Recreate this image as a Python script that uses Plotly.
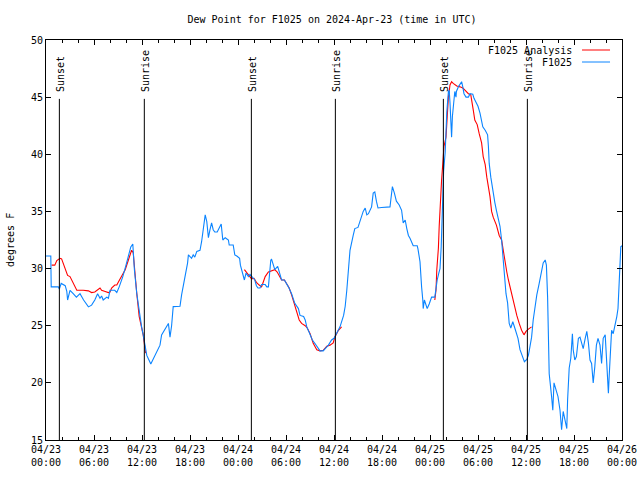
import pandas as pd
import plotly.graph_objects as go

START = pd.Timestamp("2024-04-23 00:00")

# F1025 observations: hours since 2024-04-23 00:00 UTC, dew point (F)
obs_hours = [0.0, 0.6, 0.65, 1.54, 1.67, 1.9, 2.4, 2.6, 2.7, 3.0, 3.4, 3.8, 4.25, 4.7, 5.3, 5.7, 6.1, 6.45, 6.75, 6.95,
             7.15, 7.6, 7.8, 8.0, 8.6, 8.85, 9.15, 9.6, 10.0, 10.3, 10.6, 10.85, 10.9, 11.05, 11.35, 11.55, 11.75, 11.95,
             12.15, 12.6, 13.1, 13.6, 14.25, 14.45, 15.1, 15.3, 15.5, 15.7, 15.9, 16.75, 16.95, 17.4, 17.7, 17.8, 18.2,
             18.4, 18.6, 18.85, 19.25, 19.45, 19.65, 19.9, 20.1, 20.3, 20.5, 20.7, 20.9, 21.1, 21.4, 21.75, 21.9, 22.1,
             22.4, 22.8, 22.9, 23.4, 23.6, 23.85, 24.2, 24.3, 24.6, 24.8, 25.0, 25.3, 25.5, 25.7, 26.1, 26.3, 26.5,
             26.75, 26.95, 27.4, 27.6, 27.8, 27.9, 28.1, 28.2, 28.4, 28.6, 28.96, 29.2, 29.45, 29.8, 30.1, 30.3, 30.7,
             31.1, 31.55, 31.75, 32.2, 32.4, 32.6, 33.0, 33.3, 33.6, 34.25, 34.65, 35.3, 35.7, 36.0, 36.3, 36.75, 37.2,
             37.4, 37.6, 37.8, 38.0, 38.4, 38.6, 39.0, 39.25, 39.65, 39.9, 40.1, 40.3, 40.5, 40.7, 40.9, 41.1, 41.3,
             41.5, 41.95, 42.6, 43.0, 43.1, 43.3, 43.55, 43.8, 44.15, 44.45, 44.65, 44.9, 45.1, 45.3, 45.5, 45.7, 45.9,
             46.4, 46.5, 46.75, 46.8, 46.95, 47.1, 47.15, 47.3, 47.5, 47.65, 47.9, 48.2, 48.6, 48.75, 48.9, 49.1, 49.25,
             49.4, 49.55, 49.7, 49.9, 50.1, 50.3, 50.4, 50.5, 50.6, 50.7, 50.8, 51.0, 51.1, 51.25, 51.3, 51.55, 51.75,
             51.95, 52.1, 52.25, 52.5, 52.8, 53.0, 53.35, 53.5, 53.75, 54.0, 54.25, 54.6, 54.9, 55.2, 55.3, 55.4, 55.6,
             55.85, 55.9, 56.1, 56.3, 56.5, 56.75, 56.95, 57.1, 57.25, 57.5, 57.7, 57.9, 58.1, 58.35, 58.6, 58.85, 59.0,
             59.25, 59.6, 59.8, 60.1, 60.3, 60.5, 60.7, 60.9, 61.1, 61.35, 61.65, 61.95, 62.15, 62.4, 62.55, 62.7, 62.85,
             62.9, 63.2, 63.35, 63.5, 63.75, 64.0, 64.25, 64.45, 64.65, 64.9, 65.1, 65.2, 65.4, 65.6, 65.8, 65.9, 66.1,
             66.3, 66.55, 66.75, 66.95, 67.15, 67.4, 67.6, 67.8, 68.0, 68.2, 68.4, 68.6, 68.8, 69.0, 69.25, 69.45, 69.65,
             69.9, 70.1, 70.3, 70.4, 70.6, 70.7, 70.9, 71.1, 71.35, 71.5, 71.65, 71.85, 72.0]
obs_dewpt = [31.1, 31.1, 28.4, 28.4, 28.2, 28.7, 28.5, 28.0, 27.25, 28.1, 27.8, 27.5, 27.8, 27.25, 26.65, 26.8, 27.25,
             27.8, 27.4, 27.6, 27.25, 27.5, 27.4, 28.1, 28.1, 27.9, 28.4, 29.3, 30.3, 31.2, 31.9, 32.15, 31.4, 29.9, 27.8,
             26.7, 25.5, 24.9, 24.2, 22.4, 21.65, 22.4, 23.3, 24.2, 25.06, 25.2, 24.0, 25.0, 26.67, 26.7, 27.7, 29.2,
             30.5, 31.2, 30.9, 31.2, 31.0, 31.5, 31.6, 32.35, 33.4, 34.7, 34.1, 32.7, 33.4, 34.0, 33.4, 33.2, 33.2, 33.8,
             33.9, 32.5, 32.7, 32.5, 32.06, 32.06, 31.2, 31.1, 30.9, 30.3, 29.4, 29.0, 29.6, 29.3, 29.5, 29.3, 29.0,
             28.5, 28.3, 28.3, 28.6, 28.6, 28.4, 28.4, 29.3, 30.75, 30.8, 30.3, 29.9, 30.2, 29.5, 29.0, 29.0, 28.7, 28.4,
             27.8, 26.96, 26.5, 25.9, 25.8, 25.5, 24.9, 24.3, 23.75, 23.46, 22.8, 22.8, 23.3, 23.75, 23.9, 24.3, 24.9,
             25.9, 26.7, 28.1, 30.2, 31.6, 32.9, 33.5, 33.6, 34.1, 35.0, 35.3, 34.7, 34.8, 35.1, 35.4, 36.6, 36.7, 35.9,
             35.3, 35.35, 35.35, 35.4, 36.0, 37.17, 36.6, 35.9, 35.56, 35.1, 34.0, 34.25, 33.5, 32.9, 32.65, 32.3, 32.0,
             32.0, 31.7, 30.6, 29.7, 28.4, 27.25, 26.5, 27.25, 26.9, 26.5, 26.9, 27.5, 27.5, 28.56, 29.0, 29.6, 30.0,
             31.9, 36.0, 38.5, 40.2, 43.7, 45.5, 45.6, 44.5, 43.0, 41.5, 43.3, 44.8, 45.5, 45.0, 45.5, 45.9, 46.1, 46.35,
             45.9, 45.3, 45.0, 45.0, 45.3, 45.25, 44.9, 44.6, 44.2, 43.6, 42.4, 42.1, 41.7, 40.7, 39.2, 38.0, 36.9, 36.4,
             35.8, 35.1, 34.5, 33.7, 32.5, 31.3, 30.2, 27.8, 27.0, 25.2, 24.8, 25.35, 24.8, 24.3, 23.9, 22.9, 22.15,
             21.85, 22.05, 22.4, 23.2, 24.0, 25.5, 26.7, 27.7, 28.7, 29.9, 30.5, 30.75, 30.3, 27.5, 24.0, 20.8, 18.8,
             17.6, 20.0, 19.4, 18.8, 17.6, 15.9, 17.5, 16.7, 16.0, 18.5, 21.3, 22.15, 24.3, 22.9, 22.0, 22.3, 23.9, 24.0,
             23.5, 23.0, 23.9, 24.5, 23.5, 22.0, 21.7, 20.0, 21.4, 23.3, 23.9, 23.3, 21.7, 23.9, 24.2, 21.7, 19.1, 20.6,
             23.5, 24.6, 24.3, 24.9, 25.8, 26.5, 29.3, 31.9, 32.0]

# F1025 Analysis, three separate runs
ana1_hours = [0.7, 1.1, 1.35, 1.75, 1.95, 2.15, 2.45, 2.7, 3.0, 3.2, 3.5, 3.85, 4.65, 5.3, 5.7, 6.1, 6.75, 6.95, 7.4,
              7.8, 8.0, 8.2, 8.6, 8.85, 9.1, 9.45, 9.9, 10.3, 10.5, 10.7, 10.9, 11.05, 11.35, 11.65, 11.95, 12.15, 12.45]
ana1_dewpt = [30.3, 30.3, 30.7, 30.9, 30.85, 30.5, 29.9, 29.4, 29.3, 29.0, 28.56, 28.1, 28.1, 28.05, 27.9, 27.95, 28.3,
              28.1, 28.0, 27.9, 27.95, 28.3, 28.56, 28.56, 28.9, 29.3, 29.9, 30.75, 31.2, 31.6, 31.4, 29.9, 27.8, 25.8,
              24.9, 24.2, 22.6]
ana2_hours = [24.8, 25.1, 25.4, 25.7, 26.0, 26.3, 26.65, 26.95, 27.15, 27.4, 27.8, 28.2, 28.6, 28.9, 29.25, 29.45, 29.8,
              30.1, 30.4, 30.7, 31.05, 31.25, 31.4, 31.65, 31.95, 32.4, 32.65, 33.0, 33.4, 33.85, 34.25, 34.65, 35.1,
              35.5, 35.9, 36.1, 36.55, 36.95]
ana2_dewpt = [29.9, 29.6, 29.3, 29.1, 29.15, 28.8, 28.56, 28.4, 28.8, 29.3, 29.7, 29.8, 29.9, 29.7, 29.3, 29.0, 29.0,
              28.7, 28.3, 27.7, 26.96, 26.5, 26.1, 25.5, 25.2, 25.0, 24.8, 24.33, 23.46, 22.9, 22.8, 22.85, 23.2, 23.3,
              23.5, 24.0, 24.6, 24.9]
ana3_hours = [48.6, 48.75, 48.85, 49.05, 49.15, 49.25, 49.45, 49.6, 49.75, 50.0, 50.1, 50.3, 50.5, 50.7, 50.9, 51.35,
              51.75, 52.1, 52.4, 52.8, 53.1, 53.2, 53.4, 53.6, 53.9, 54.15, 54.45, 54.65, 54.9, 55.1, 55.3, 55.5, 55.7,
              55.9, 56.3, 56.65, 56.95, 57.15, 57.4, 57.6, 57.8, 58.1, 58.4, 58.6, 58.85, 59.15, 59.45, 59.75, 60.0,
              60.3, 60.7]
ana3_dewpt = [27.25, 28.1, 29.9, 31.8, 33.7, 35.4, 37.75, 39.2, 40.7, 41.5, 43.0, 45.0, 46.06, 46.35, 46.2, 45.97, 45.9,
              45.8, 45.6, 45.3, 45.2, 44.6, 43.9, 43.0, 42.6, 41.8, 41.0, 39.8, 39.1, 38.0, 37.2, 36.3, 35.0, 34.5, 33.8,
              32.9, 32.5, 31.5, 30.6, 29.7, 29.0, 28.1, 27.25, 26.5, 25.9, 25.2, 24.6, 24.2, 24.5, 24.7, 24.9]

# Sunrise / sunset markers (hours since start)
sun_hours = [1.67, 12.29, 25.67, 36.17, 49.67, 60.17]
sun_labels = ["Sunset", "Sunrise", "Sunset", "Sunrise", "Sunset", "Sunrise"]

FONT = "DejaVu Sans Mono"
BLUE = "#0a84ff"
RED = "#ff0000"


def to_time(hours):
    return [None if h is None else START + pd.Timedelta(hours=h) for h in hours]


ana_hours = ana1_hours + [None] + ana2_hours + [None] + ana3_hours
ana_dewpt = ana1_dewpt + [None] + ana2_dewpt + [None] + ana3_dewpt

fig = go.Figure()
fig.add_trace(go.Scatter(x=to_time(ana_hours), y=ana_dewpt, mode="lines", name="F1025 Analysis",
                         line=dict(color=RED, width=1.1), connectgaps=False))
fig.add_trace(go.Scatter(x=to_time(obs_hours), y=obs_dewpt, mode="lines", name="F1025",
                         line=dict(color=BLUE, width=1.1)))

for t, lab in zip(to_time(sun_hours), sun_labels):
    fig.add_shape(type="line", xref="x", yref="y", x0=t, x1=t, y0=15, y1=44.85,
                  line=dict(color="black", width=1))
    fig.add_annotation(x=t, y=45.3, xref="x", yref="y", text=lab, textangle=-90, showarrow=False,
                       yanchor="bottom", xanchor="center", xshift=1,
                       font=dict(family=FONT, size=10, color="black"))

# gnuplot-style legend (text then sample line)
legend_names = ["F1025 Analysis", "F1025"]
legend_colors = [RED, BLUE]
legend_y = [0.975, 0.945]
for name, col, ly in zip(legend_names, legend_colors, legend_y):
    fig.add_annotation(x=0.9167, y=ly, xref="paper", yref="paper", text=name, showarrow=False,
                       xanchor="right", yanchor="middle", font=dict(family=FONT, size=10, color="black"))
    fig.add_shape(type="line", xref="paper", yref="paper", x0=0.9306, x1=0.9792, y0=ly, y1=ly,
                  line=dict(color=col, width=1))

# y-axis title as a rotated label left of the tick labels
fig.add_annotation(x=(10 - 46) / 576, y=0.5, xref="paper", yref="paper", text="degrees F", textangle=-90,
                   showarrow=False, xanchor="center", yanchor="middle",
                   font=dict(family=FONT, size=10, color="black"))

fig.update_layout(
    width=640, height=480,
    margin=dict(l=46, r=18, t=40, b=40),
    paper_bgcolor="white", plot_bgcolor="white",
    showlegend=False,
    font=dict(family=FONT, size=10, color="black"),
    title=dict(text="Dew Point for F1025 on 2024-Apr-23 (time in UTC)", x=332 / 640, xanchor="center",
               y=1 - 19 / 480, yanchor="middle", yref="container",
               font=dict(family=FONT, size=10, color="black")),
    xaxis=dict(type="date", range=[START, START + pd.Timedelta(hours=72)], automargin=False,
               tick0=START, dtick=6 * 3600 * 1000, tickformat="%m/%d<br>%H:%M",
               ticks="inside", ticklen=5, tickcolor="black", showgrid=False, zeroline=False,
               showline=True, linecolor="black", linewidth=1, mirror="ticks",
               minor=dict(dtick=2 * 3600 * 1000, ticks="inside", ticklen=3, tickcolor="black", showgrid=False),
               tickfont=dict(family=FONT, size=10, color="black")),
    yaxis=dict(range=[15, 50], dtick=5, ticks="inside", ticklen=5, tickcolor="black", showgrid=False,
               zeroline=False, showline=True, linecolor="black", linewidth=1, mirror="ticks", automargin=False,
               tickfont=dict(family=FONT, size=10, color="black")),
)

fig.write_html("out.html", config={"displayModeBar": False},
               post_script="document.body.style.margin='0';document.body.style.overflow='hidden';")
